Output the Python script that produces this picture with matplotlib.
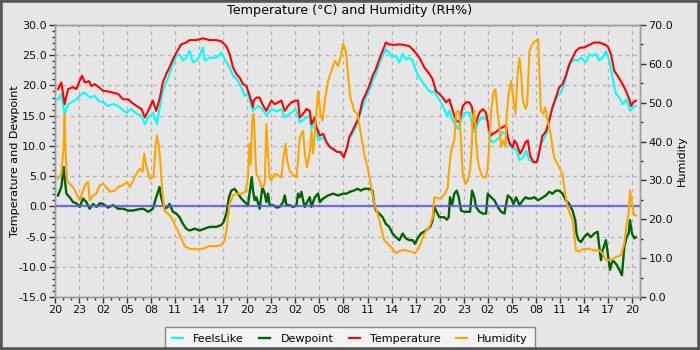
import matplotlib
matplotlib.use("Agg")
import matplotlib.pyplot as plt
from matplotlib.ticker import MultipleLocator, FormatStrFormatter
from matplotlib.patches import Rectangle

# ---- data (hours since 20:00 of day 1) ----
tick_hours = list(range(0, 73, 3))
tick_labels = ["20", "23", "02", "05", "08", "11", "14", "17"] * 3 + ["20"]

temp_h = [0.375, 0.79, 1.2, 1.63, 2.25, 2.67, 3.08, 3.38, 3.71, 4.25, 4.54, 4.96, 5.5, 6.0, 6.63, 7.25, 7.88, 8.5, 9.13, 9.54,
          10.17, 10.79, 11.21, 11.63, 12.21, 12.63, 13.04, 13.46, 13.88, 14.29, 14.71, 15.13, 15.75, 16.38, 16.79, 17.63, 18.46,
          19.29, 20.13, 20.75, 21.38, 21.79, 22.21, 22.63, 23.04, 23.46, 23.88, 24.29, 24.71, 24.79, 25.13, 25.54, 25.88, 26.38,
          27.0, 27.42, 27.83, 28.25, 28.67, 29.08, 29.5, 30.04, 30.33, 30.54, 30.96, 31.38, 31.79, 32.0, 32.42, 32.63, 33.04,
          33.46, 33.88, 34.29, 34.71, 35.21, 35.63, 36.04, 36.46, 36.71, 37.13, 37.54, 37.96, 38.38, 38.79, 39.21, 39.63, 40.04,
          40.46, 40.88, 41.29, 41.71, 42.33, 42.96, 43.58, 44.21, 44.83, 45.46, 46.08, 46.71, 47.13, 47.54, 47.96, 48.38, 48.79,
          49.21, 49.63, 50.04, 50.46, 50.88, 51.29, 51.71, 52.04, 52.33, 52.63, 52.96, 53.38, 53.79, 54.13, 54.42, 54.63, 55.04,
          55.46, 55.88, 56.29, 56.5, 56.79, 57.13, 57.33, 57.63, 58.04, 58.38, 58.71, 59.0, 59.29, 59.71, 60.13, 60.46, 60.83,
          61.25, 61.67, 62.08, 62.5, 62.92, 63.33, 63.75, 64.17, 64.58, 65.0, 65.42, 66.04, 66.67, 67.29, 67.92, 68.54, 68.96,
          69.38, 69.79, 70.21, 70.83, 71.25, 71.67, 71.88, 72.17, 72.5]
temperature = [19.4, 20.5, 16.9, 19.4, 19.7, 19.4, 20.8, 21.6, 20.5, 20.7, 19.9, 20.2, 19.7, 19.1, 19.0, 18.8, 18.6, 17.7, 17.7, 17.2,
               16.6, 16.1, 14.7, 15.8, 17.5, 15.8, 17.7, 20.5, 21.9, 23.0, 24.3, 25.4, 26.8, 27.1, 27.5, 27.5, 27.8,
               27.5, 27.5, 27.3, 26.5, 25.2, 23.0, 21.9, 21.3, 20.2, 19.9, 18.3, 16.4, 17.5, 18.0, 18.0, 16.9, 15.8,
               17.5, 16.9, 17.2, 17.5, 15.8, 16.6, 17.2, 17.5, 17.5, 14.7, 15.3, 16.1, 15.8, 13.6, 14.7, 13.1, 11.7,
               12.0, 10.6, 9.8, 9.5, 9.0, 9.0, 8.1, 9.8, 11.4, 12.5, 13.6, 15.0, 17.5, 18.6, 19.9, 21.6, 22.7,
               24.3, 25.7, 27.1, 26.8, 26.7, 26.8, 26.7, 26.5, 25.7, 24.6, 23.0, 21.9, 21.0, 19.1, 18.6, 18.0, 17.2,
               17.7, 15.8, 14.2, 13.9, 16.6, 17.2, 17.2, 16.4, 13.1, 14.2, 15.5, 16.1, 15.5, 12.8, 11.7, 12.0, 12.3,
               12.8, 13.1, 13.4, 11.4, 10.3, 9.8, 10.9, 10.3, 8.7, 9.5, 10.6, 10.9, 8.4, 7.3, 7.3, 9.2, 11.7,
               12.3, 14.2, 16.4, 18.0, 19.7, 20.2, 21.6, 23.5, 24.6, 25.7, 26.2, 26.3, 26.7, 27.1, 27.1, 26.8, 26.5,
               25.2, 22.4, 21.6, 20.2, 19.1, 17.7, 16.6, 17.2, 17.5]

feels_h = [0.375, 0.79, 1.2, 1.63, 2.04, 2.67, 3.29, 3.71, 4.33, 4.96, 5.38, 6.0, 6.63, 7.25, 7.88, 8.29, 8.92, 9.54, 10.17, 10.79,
           11.21, 11.63, 12.21, 12.71, 13.04, 13.46, 13.88, 14.29, 14.71, 15.13, 15.54, 15.96, 16.38, 16.79, 17.21, 17.83, 18.46,
           18.67, 19.29, 20.13, 20.75, 21.17, 21.79, 22.21, 22.71, 23.25, 23.67, 24.08, 24.5, 24.71, 25.33, 25.88, 26.38, 27.0,
           27.63, 28.25, 28.67, 29.29, 30.04, 30.54, 31.17, 31.79, 32.0, 32.42, 32.83, 33.46, 34.08, 34.71, 35.63, 36.04, 36.71,
           37.13, 37.54, 37.96, 38.38, 38.79, 39.21, 39.63, 40.04, 40.46, 40.88, 41.29, 41.71, 42.13, 42.54, 42.96, 43.38, 43.79,
           44.21, 44.63, 45.04, 45.46, 45.88, 46.5, 46.92, 47.33, 47.75, 48.17, 48.58, 48.92, 49.21, 49.63, 50.25, 50.67, 51.08,
           51.71, 52.13, 52.33, 52.75, 53.17, 53.58, 54.0, 54.21, 54.63, 55.04, 55.46, 55.88, 56.29, 56.71, 57.13, 57.54, 57.96,
           58.38, 58.79, 59.21, 59.83, 60.25, 60.63, 61.04, 61.46, 61.88, 62.29, 62.71, 63.13, 63.54, 63.96, 64.38, 64.79, 65.21,
           65.63, 66.25, 66.67, 67.08, 67.5, 67.92, 68.33, 68.75, 69.17, 69.58, 70.0, 70.42, 70.83, 71.33, 71.75, 72.17, 72.5]
feels_like = [17.7, 18.6, 15.3, 16.9, 17.2, 17.7, 18.6, 18.8, 18.0, 18.3, 17.5, 17.2, 16.6, 16.9, 16.6, 16.1, 15.5, 16.1, 15.3, 15.0,
              13.6, 14.7, 15.5, 13.6, 16.1, 19.1, 20.5, 21.9, 23.5, 24.9, 25.2, 24.1, 24.6, 25.7, 23.8, 24.3, 26.3,
              24.1, 24.6, 24.6, 25.4, 24.3, 23.0, 21.6, 21.0, 19.7, 18.3, 18.6, 16.6, 15.8, 16.6, 16.1, 15.0, 16.1,
              15.7, 16.1, 14.7, 15.3, 16.1, 13.9, 14.5, 15.0, 12.8, 14.2, 10.9, 11.4, 10.3, 9.3, 8.8, 8.1, 11.2,
              12.0, 13.1, 14.7, 16.4, 18.0, 19.1, 20.8, 21.9, 23.5, 24.9, 26.0, 25.4, 24.6, 24.9, 23.8, 25.2, 24.3,
              24.6, 24.1, 22.4, 21.3, 20.5, 19.4, 18.8, 19.1, 18.0, 17.2, 16.1, 15.0, 15.8, 14.2, 12.8, 14.2, 15.5,
              15.5, 13.1, 12.3, 13.6, 14.7, 14.5, 14.2, 11.2, 10.6, 10.9, 11.4, 12.3, 12.0, 10.1, 9.5, 9.5, 7.6,
              8.1, 9.2, 7.6, 7.3, 7.6, 10.3, 11.2, 12.5, 15.3, 16.9, 18.3, 18.8, 20.2, 22.4, 23.8, 24.3, 24.1,
              24.6, 23.8, 25.2, 24.9, 25.2, 24.1, 24.6, 25.7, 24.1, 21.3, 18.6, 18.0, 16.9, 17.7, 15.8, 16.4, 16.6]

dew_h = [0.375, 0.79, 1.08, 1.2, 1.42, 1.83, 2.25, 2.67, 3.08, 3.5, 3.92, 4.33, 4.75, 5.17, 5.58, 6.0, 6.63, 7.25, 7.88, 8.5,
         9.13, 9.75, 10.38, 11.0, 11.63, 12.21, 12.63, 13.04, 13.25, 13.67, 14.08, 14.29, 14.71, 15.13, 15.54, 15.96, 16.38,
         16.79, 17.42, 18.04, 18.67, 19.29, 20.13, 20.75, 21.04, 21.38, 21.71, 22.0, 22.42, 22.83, 23.25, 23.67, 24.08, 24.38,
         24.55, 24.71, 24.92, 25.13, 25.54, 25.88, 26.17, 26.38, 26.58, 26.79, 27.21, 27.63, 28.04, 28.46, 28.67, 28.88, 29.29,
         29.71, 30.13, 30.33, 30.54, 30.75, 30.96, 31.17, 31.58, 31.79, 32.0, 32.21, 32.42, 32.83, 33.04, 33.46, 34.08, 34.71,
         35.33, 35.96, 36.38, 36.79, 37.29, 37.75, 38.17, 38.58, 39.21, 39.63, 39.83, 40.04, 40.46, 40.88, 41.29, 41.71, 42.13,
         42.54, 42.96, 43.38, 43.79, 44.21, 44.63, 44.92, 45.25, 45.67, 46.29, 46.83, 47.13, 47.33, 47.54, 47.96, 48.58, 48.9,
         49.13, 49.29, 49.54, 49.83, 50.13, 50.38, 50.67, 51.08, 51.5, 51.79, 52.04, 52.33, 52.54, 52.96, 53.38, 53.79, 54.0,
         54.42, 54.83, 55.25, 55.67, 56.08, 56.5, 56.92, 57.21, 57.54, 57.96, 58.38, 58.71, 59.0, 59.42, 59.83, 60.25, 60.67,
         61.25, 61.67, 62.08, 62.5, 62.92, 63.33, 63.75, 64.17, 64.58, 64.92, 65.08, 65.33, 65.63, 66.04, 66.46, 66.88, 67.29,
         67.71, 67.92, 68.13, 68.33, 68.75, 69.08, 69.25, 69.58, 70.0, 70.42, 70.75, 71.04, 71.33, 71.58, 71.75, 72.0, 72.29, 72.5]
dewpoint = [1.8, 3.2, 6.5, 4.8, 2.1, 1.5, 0.7, 0.5, -0.1, 1.3, 0.7, -0.4, 0.4, -0.1, 0.5, 0.4, -0.2, 0.2, -0.4, -0.4,
            -0.7, -0.7, -0.5, -0.4, -0.9, -0.4, 1.5, 3.2, 1.5, -0.4, -0.1, 0.4, -0.9, -1.2, -1.8, -2.9, -3.7,
            -4.0, -3.7, -4.0, -3.7, -3.4, -3.4, -3.1, -2.6, -1.2, 1.5, 2.6, 2.9, 2.1, 1.3, 0.7, 0.2, 3.2,
            4.8, 2.6, 1.0, 1.5, -0.4, 3.2, 2.1, 0.7, 2.1, 0.2, 0.2, -0.2, -0.1, 0.7, 1.8, 0.2, 0.2,
            -0.1, 0.2, 2.1, 1.5, 2.4, 1.0, -0.1, 1.0, 1.5, -0.1, 0.7, 1.5, 2.1, 0.7, 1.3, 1.8, 2.1,
            1.8, 2.1, 2.1, 2.4, 2.6, 2.9, 2.6, 2.9, 2.9, 2.6, 0.4, -0.7, -1.2, -1.8, -2.9, -3.4, -4.5,
            -5.1, -5.6, -4.5, -5.3, -5.6, -5.6, -6.2, -5.3, -4.5, -4.0, -3.4, -2.3, -0.1, -0.7, -1.8, -1.8, -2.2,
            -1.8, 1.5, 0.2, 2.1, 2.6, 1.5, -0.7, -0.9, -0.9, -0.9, 2.6, 1.5, -0.1, -0.9, -1.2, -1.2, 2.1,
            1.5, 1.0, -0.1, -0.9, -1.2, 1.8, 1.3, 0.4, 1.5, 0.2, 1.0, 1.5, 1.3, 1.3, 1.5, 1.0, 1.3,
            1.8, 2.4, 2.1, 2.6, 2.6, 2.1, 1.0, 0.4, -0.7, -2.3, -4.5, -5.6, -5.9, -5.1, -4.5, -5.1, -4.5,
            -4.2, -6.7, -8.9, -7.3, -5.6, -8.9, -10.5, -8.9, -9.5, -10.5, -11.4, -6.7, -5.1, -4.5, -2.3, -4.5, -5.3, -5.1]

hum_h = [0.375, 0.79, 1.08, 1.2, 1.33, 1.5, 1.83, 2.25, 2.67, 3.08, 3.5, 3.83, 4.13, 4.33, 4.75, 5.17, 5.58, 6.0, 6.42, 6.83,
         7.46, 7.88, 8.5, 9.0, 9.33, 9.75, 10.17, 10.58, 10.92, 11.13, 11.42, 11.83, 12.29, 12.54, 12.71, 12.96, 13.17, 13.38,
         13.67, 14.08, 14.5, 14.92, 15.33, 15.75, 16.17, 16.79, 17.63, 18.46, 19.29, 20.13, 20.75, 21.17, 21.46, 21.79, 22.21,
         22.63, 23.25, 23.79, 24.08, 24.29, 24.42, 24.6, 24.8, 25.0, 25.13, 25.54, 25.75, 25.96, 26.17, 26.38, 26.58, 26.79,
         27.0, 27.42, 27.83, 28.25, 28.46, 28.79, 28.96, 29.29, 29.71, 30.13, 30.33, 30.54, 30.96, 31.17, 31.46, 31.79, 32.0,
         32.21, 32.54, 32.83, 33.13, 33.38, 33.67, 34.08, 34.5, 34.92, 35.33, 35.63, 35.96, 36.29, 36.5, 36.71, 36.92, 37.13,
         37.33, 37.75, 38.17, 38.58, 39.0, 39.42, 39.83, 40.25, 40.67, 41.08, 41.5, 42.13, 42.54, 43.17, 43.79, 44.42, 44.92,
         45.46, 46.08, 46.71, 47.13, 47.33, 47.75, 48.17, 48.58, 49.0, 49.29, 49.54, 49.83, 50.04, 50.25, 50.46, 50.67, 50.88,
         51.21, 51.5, 51.79, 52.0, 52.13, 52.33, 52.54, 52.75, 53.04, 53.38, 53.79, 54.0, 54.21, 54.42, 54.71, 54.96, 55.25,
         55.46, 55.67, 55.96, 56.21, 56.38, 56.63, 56.92, 57.21, 57.46, 57.75, 57.96, 58.17, 58.38, 58.71, 58.92, 59.21, 59.54,
         59.96, 60.29, 60.45, 60.63, 60.92, 61.17, 61.46, 61.67, 61.88, 62.08, 62.29, 62.71, 63.0, 63.33, 63.67, 63.96, 64.25,
         64.58, 64.79, 65.0, 65.42, 65.83, 66.25, 66.67, 67.29, 67.92, 68.33, 68.75, 69.38, 70.0, 70.63, 71.04, 71.33, 71.58,
         71.75, 72.0, 72.29, 72.5]
humidity = [30.4, 31.7, 38.6, 47.1, 36.9, 30.0, 29.1, 28.3, 26.6, 24.9, 27.4, 29.1, 29.6, 24.9, 26.1, 26.6, 28.8, 29.1, 28.3, 27.1,
            27.4, 28.3, 28.8, 29.6, 28.3, 30.0, 31.7, 33.0, 32.2, 36.9, 33.4, 30.4, 30.8, 38.6, 41.5, 39.0, 34.2, 27.4,
            22.2, 21.5, 20.5, 18.8, 17.1, 15.1, 13.1, 12.4, 12.3, 12.4, 13.1, 13.1, 13.4, 14.6, 18.0, 24.0, 26.1,
            26.6, 26.6, 27.1, 30.8, 39.4, 34.2, 45.4, 47.1, 36.9, 31.7, 30.0, 28.3, 28.3, 29.1, 44.5, 36.9, 30.8,
            30.0, 31.7, 31.3, 30.8, 35.2, 39.4, 35.2, 32.5, 31.3, 30.8, 35.2, 41.1, 42.8, 36.9, 33.4, 36.9, 42.8,
            36.9, 45.4, 53.0, 47.1, 45.4, 50.6, 55.7, 58.2, 60.8, 59.4, 61.6, 65.2, 63.3, 58.8, 54.0, 50.6, 49.6,
            47.9, 47.1, 42.0, 36.9, 33.4, 29.1, 24.0, 21.5, 18.0, 14.6, 13.7, 12.4, 11.2, 12.0, 12.0, 11.7, 11.2,
            12.9, 16.3, 18.0, 20.5, 25.7, 25.4, 25.4, 26.4, 28.0, 35.2, 38.6, 40.3, 47.1, 47.9, 47.4, 39.4, 31.7,
            29.1, 30.0, 32.5, 38.6, 46.2, 47.9, 40.3, 35.2, 32.5, 30.8, 30.8, 33.4, 40.3, 47.9, 52.6, 53.5, 47.1,
            43.7, 38.6, 40.3, 38.6, 47.1, 52.6, 55.7, 50.6, 47.1, 58.2, 61.6, 57.4, 50.6, 48.4, 49.6, 63.3, 65.0,
            65.9, 66.3, 57.6, 47.9, 47.1, 48.8, 45.4, 43.7, 41.5, 38.6, 35.9, 34.2, 33.0, 31.7, 26.6, 23.2, 21.5,
            19.8, 16.3, 12.0, 11.7, 12.3, 12.4, 12.4, 12.0, 12.0, 11.2, 9.5, 9.5, 10.3, 10.7, 13.7, 18.8, 21.5,
            27.4, 24.0, 21.0, 21.0]

# ---- styling ----
BG = "#e6e6e6"
GRID = "#b4b4b4"
SPINE = "#9a9a9a"
plt.rcParams["font.family"] = ["DejaVu Sans"]
plt.rcParams["font.size"] = 8

fig = plt.figure(figsize=(7, 3.5), dpi=100, facecolor=BG)
ax = fig.add_axes([55 / 700, 1 - 297 / 350, 585 / 700, 272 / 350])
ax.set_facecolor(BG)
ax2 = ax.twinx()

l1, = ax.plot(feels_h, feels_like, color="#00ffff", lw=1.5, label="FeelsLike", zorder=3)
l2, = ax.plot(dew_h, dewpoint, color="#006400", lw=1.7, label="Dewpoint", zorder=3)
l3, = ax.plot(temp_h, temperature, color="#ff0000", lw=1.5, label="Temperature", zorder=4)
ax.axhline(0, color="#5a5ae6", lw=1.6, alpha=0.85, zorder=5)
l4, = ax2.plot(hum_h, humidity, color="#ffa500", lw=1.5, label="Humidity", zorder=2)

ax.set_xlim(0, 73.0)
ax.set_ylim(-15, 30)
ax2.set_ylim(0, 70)

ax.set_xticks(tick_hours)
ax.set_xticklabels(tick_labels)
ax.xaxis.set_minor_locator(MultipleLocator(1))
ax.yaxis.set_major_locator(MultipleLocator(5))
ax.yaxis.set_minor_locator(MultipleLocator(1))
ax.yaxis.set_major_formatter(FormatStrFormatter("%.1f"))
ax2.yaxis.set_major_locator(MultipleLocator(10))
ax2.yaxis.set_minor_locator(MultipleLocator(5))
ax2.yaxis.set_major_formatter(FormatStrFormatter("%.1f"))

ax.grid(True, which="major", color=GRID, ls=(0, (3, 3)), lw=0.9)
ax.set_axisbelow(True)

for a in (ax, ax2):
    for s in a.spines.values():
        s.set_color(SPINE)
        s.set_linewidth(1.0)
    a.tick_params(which="major", length=4, width=1, color="#333333", labelsize=8, labelcolor="#111111", pad=2)
    a.tick_params(which="minor", length=2.5, width=1, color="#333333")

ax.set_ylabel("Temperature and Dewpoint", fontsize=8)
ax.yaxis.set_label_coords(-0.059, 0.5)
ax2.set_ylabel("Humidity", fontsize=8)
ax2.yaxis.set_label_coords(1.063, 0.5)
fig.suptitle("Temperature (°C) and Humidity (RH%)", fontsize=9.2, y=0.988)

leg = fig.legend(handles=[l1, l2, l3, l4], loc="lower center", bbox_to_anchor=(0.5, -0.014), ncol=4,
                 fontsize=8, handlelength=1.0, handletextpad=0.9, columnspacing=1.4, frameon=True,
                 fancybox=False, borderpad=0.65, borderaxespad=0.3)
leg.get_frame().set_facecolor("#f3f3f3")
leg.get_frame().set_edgecolor("#888888")
leg.get_frame().set_alpha(1)

fig.patches.append(Rectangle((0, 0), 1, 1, transform=fig.transFigure, fill=False,
                             edgecolor="#555555", lw=4, zorder=10))

fig.savefig("out.png", dpi=100, facecolor=BG)
